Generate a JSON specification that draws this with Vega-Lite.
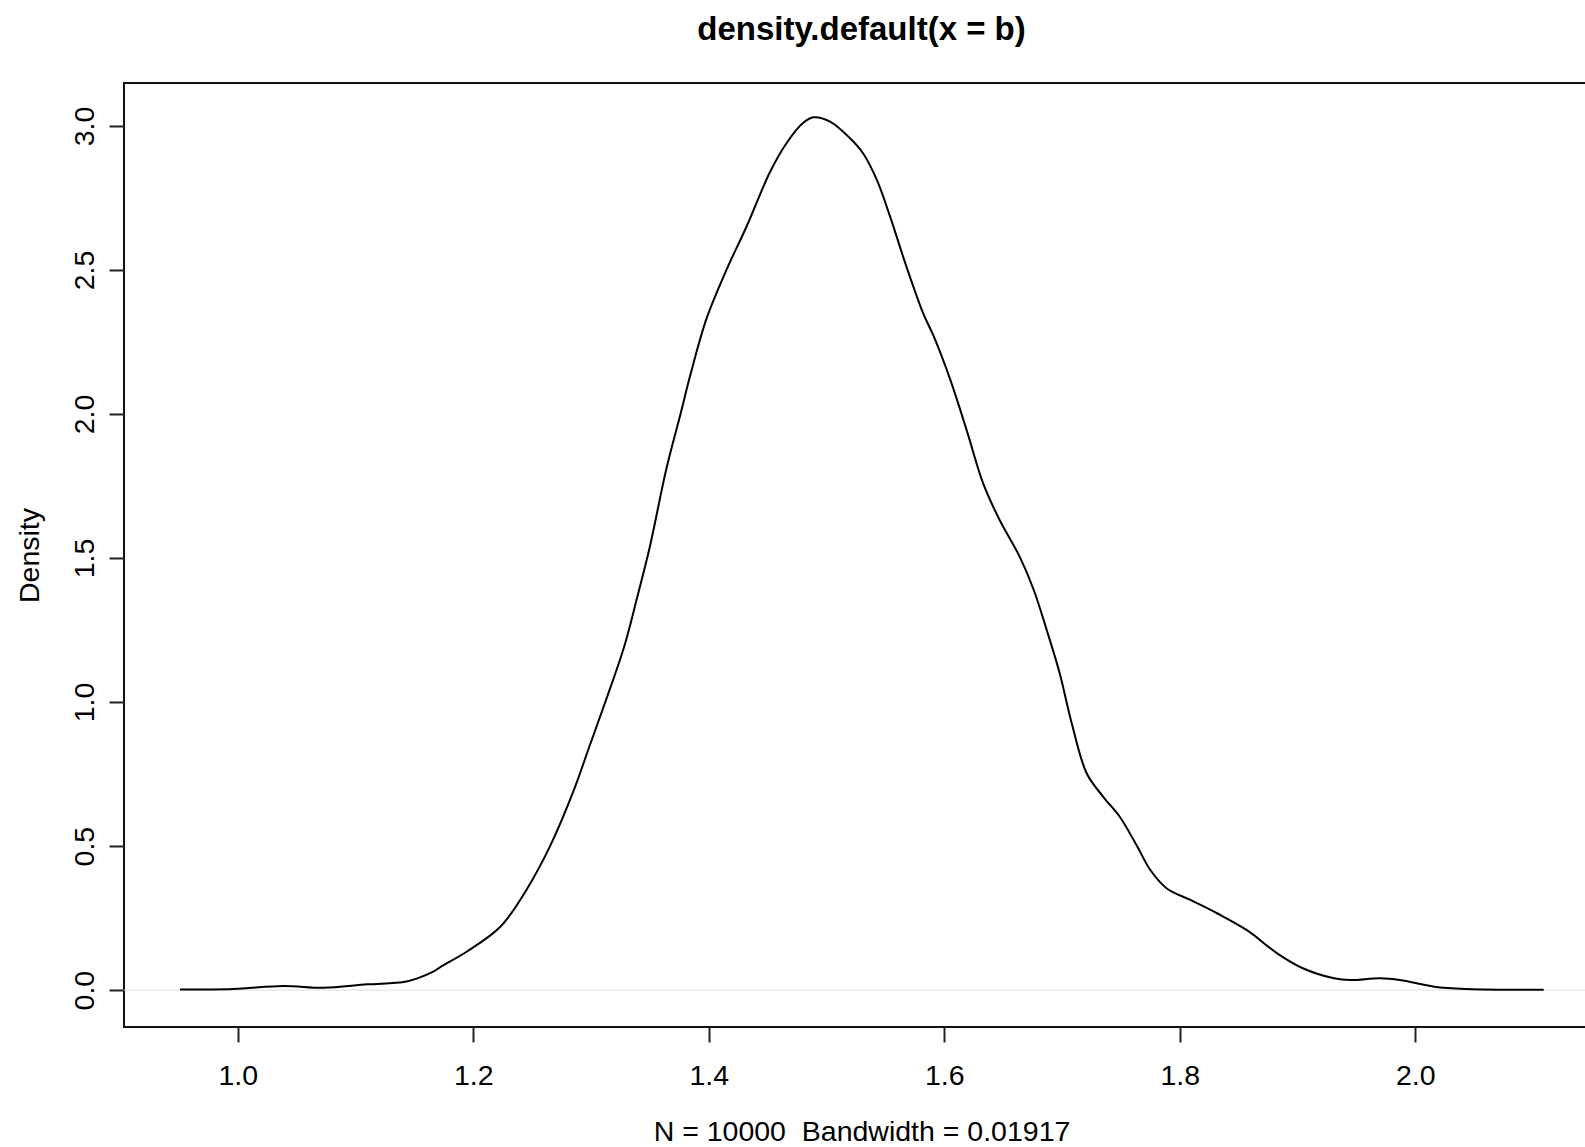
{
  "$schema": "https://vega.github.io/schema/vega-lite/v6.json",
  "width": 1475,
  "height": 944,
  "autosize": "none",
  "padding": {"left": 124, "top": 83, "right": 0, "bottom": 120},
  "background": "white",
  "title": {
    "text": "density.default(x = b)",
    "font": "Liberation Sans",
    "fontSize": 33,
    "fontWeight": "bold",
    "color": "black",
    "anchor": "middle",
    "frame": "group",
    "baseline": "alphabetic",
    "offset": 10
  },
  "config": {
    "view": {"stroke": "#111111", "strokeWidth": 2},
    "axis": {
      "domain": false,
      "grid": false,
      "tickColor": "#222222",
      "tickWidth": 2,
      "tickSize": 15,
      "labelFont": "Liberation Sans",
      "labelFontSize": 28.5,
      "labelColor": "black",
      "labelOverlap": false,
      "labelFlush": false,
      "labelBound": false,
      "titleFont": "Liberation Sans",
      "titleFontSize": 28.5,
      "titleFontWeight": "normal",
      "titleColor": "black"
    }
  },
  "layer": [
    {
      "data": {"values": [{"ref": "zero"}]},
      "mark": {"type": "rule", "color": "#dedede", "strokeWidth": 1},
      "encoding": {
        "y": {"datum": 0, "type": "quantitative", "scale": {"domain": [-0.128, 3.149], "nice": false, "zero": false}}
      }
    },
    {
      "data": {
        "values": [
          {"x": 0.951, "density": 0.002},
          {"x": 0.996, "density": 0.004},
          {"x": 1.039, "density": 0.014},
          {"x": 1.073, "density": 0.008},
          {"x": 1.110, "density": 0.020},
          {"x": 1.141, "density": 0.028},
          {"x": 1.152, "density": 0.040},
          {"x": 1.166, "density": 0.064},
          {"x": 1.172, "density": 0.080},
          {"x": 1.195, "density": 0.135},
          {"x": 1.223, "density": 0.220},
          {"x": 1.245, "density": 0.347},
          {"x": 1.265, "density": 0.498},
          {"x": 1.285, "density": 0.690},
          {"x": 1.299, "density": 0.850},
          {"x": 1.313, "density": 1.010},
          {"x": 1.328, "density": 1.190},
          {"x": 1.339, "density": 1.360},
          {"x": 1.350, "density": 1.540},
          {"x": 1.364, "density": 1.810},
          {"x": 1.376, "density": 2.000},
          {"x": 1.384, "density": 2.130},
          {"x": 1.398, "density": 2.330},
          {"x": 1.415, "density": 2.500},
          {"x": 1.432, "density": 2.650},
          {"x": 1.452, "density": 2.840},
          {"x": 1.466, "density": 2.940},
          {"x": 1.480, "density": 3.010},
          {"x": 1.489, "density": 3.030},
          {"x": 1.503, "density": 3.015},
          {"x": 1.520, "density": 2.957},
          {"x": 1.531, "density": 2.905},
          {"x": 1.543, "density": 2.810},
          {"x": 1.554, "density": 2.685},
          {"x": 1.568, "density": 2.510},
          {"x": 1.582, "density": 2.350},
          {"x": 1.591, "density": 2.270},
          {"x": 1.605, "density": 2.120},
          {"x": 1.619, "density": 1.944},
          {"x": 1.633, "density": 1.759},
          {"x": 1.647, "density": 1.632},
          {"x": 1.664, "density": 1.505},
          {"x": 1.676, "density": 1.389},
          {"x": 1.687, "density": 1.250},
          {"x": 1.698, "density": 1.100},
          {"x": 1.708, "density": 0.930},
          {"x": 1.721, "density": 0.752},
          {"x": 1.735, "density": 0.671},
          {"x": 1.749, "density": 0.602},
          {"x": 1.764, "density": 0.498},
          {"x": 1.775, "density": 0.417},
          {"x": 1.789, "density": 0.353},
          {"x": 1.809, "density": 0.313},
          {"x": 1.832, "density": 0.266},
          {"x": 1.857, "density": 0.208},
          {"x": 1.883, "density": 0.127},
          {"x": 1.905, "density": 0.075},
          {"x": 1.931, "density": 0.041},
          {"x": 1.945, "density": 0.035},
          {"x": 1.970, "density": 0.041},
          {"x": 1.987, "density": 0.035},
          {"x": 2.016, "density": 0.012},
          {"x": 2.044, "density": 0.004},
          {"x": 2.109, "density": 0.001}
        ]
      },
      "mark": {"type": "line", "color": "black", "strokeWidth": 2, "interpolate": "catmull-rom"},
      "encoding": {
        "x": {
          "field": "x",
          "type": "quantitative",
          "scale": {"domain": [0.9034, 2.156], "nice": false, "zero": false},
          "axis": {
            "values": [1.0, 1.2, 1.4, 1.6, 1.8, 2.0],
            "format": ".1f",
            "title": "N = 10000\u00a0 Bandwidth = 0.01917",
            "labelPadding": 19,
            "labelBaseline": "top",
            "titleY": 113,
            "titleBaseline": "alphabetic"
          }
        },
        "y": {
          "field": "density",
          "type": "quantitative",
          "scale": {"domain": [-0.128, 3.149], "nice": false, "zero": false},
          "axis": {
            "values": [0, 0.5, 1.0, 1.5, 2.0, 2.5, 3.0],
            "format": ".1f",
            "title": "Density",
            "labelAngle": 270,
            "labelAlign": "center",
            "labelBaseline": "alphabetic",
            "labelPadding": 16,
            "titleAngle": 270,
            "titleAlign": "center",
            "titleBaseline": "alphabetic",
            "titleX": -86,
            "titleY": 472
          }
        }
      }
    }
  ]
}
